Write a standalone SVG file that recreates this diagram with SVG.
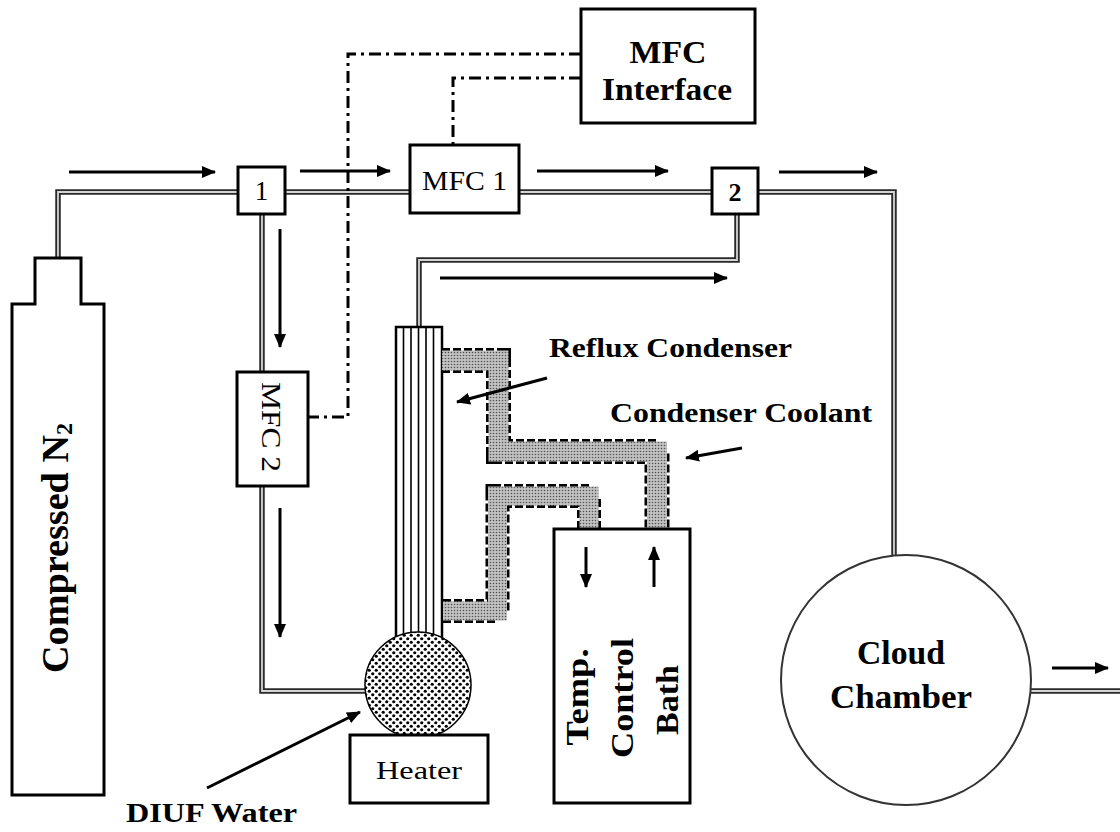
<svg xmlns="http://www.w3.org/2000/svg" width="1120" height="832" viewBox="0 0 1120 832">
<defs>
<style>
.pipe-o{fill:none;stroke:#2a2a2a;stroke-width:5.5;stroke-linejoin:miter}
.pipe-i{fill:none;stroke:#d4d4d4;stroke-width:1.8;stroke-linejoin:miter}
.box{fill:#fff;stroke:#000;stroke-width:3}
.flow{fill:none;stroke:#000;stroke-width:3;marker-end:url(#ah)}
.sig{fill:none;stroke:#000;stroke-width:3;stroke-dasharray:12 5 3 5}
.cool-b{fill:none;stroke:#000;stroke-dasharray:8 3;stroke-linejoin:miter}
.cool-f{fill:none;stroke:url(#stip);stroke-linejoin:miter}
.t{font-family:"Liberation Serif","Times New Roman",serif;fill:#000}
.b{font-weight:bold}
.m{text-anchor:middle}
</style>
<marker id="ah" markerUnits="userSpaceOnUse" markerWidth="14" markerHeight="12" refX="13" refY="6" orient="auto">
<path d="M0,0 L14,6 L0,12 z" fill="#000"/>
</marker>
<pattern id="stip" patternUnits="userSpaceOnUse" width="3" height="3">
<rect width="3" height="3" fill="#c2c2c2"/>
<circle cx="1.5" cy="1.5" r="0.8" fill="#555"/>
</pattern>
<pattern id="dots" patternUnits="userSpaceOnUse" width="7" height="7">
<rect width="7" height="7" fill="#fff"/>
<circle cx="1.75" cy="1.75" r="1.6" fill="#000"/>
<circle cx="5.25" cy="5.25" r="1.6" fill="#000"/>
</pattern>
</defs>
<rect width="1120" height="832" fill="#fff"/>

<g id="pipes">
<path class="pipe-o" d="M58,258 V192 H238"/><path class="pipe-i" d="M58,258 V192 H238"/>
<path class="pipe-o" d="M285,192 H410"/><path class="pipe-i" d="M285,192 H410"/>
<path class="pipe-o" d="M519,192 H712"/><path class="pipe-i" d="M519,192 H712"/>
<path class="pipe-o" d="M758,192 H894 V556"/><path class="pipe-i" d="M758,192 H894 V556"/>
<path class="pipe-o" d="M262,214 V372"/><path class="pipe-i" d="M262,214 V372"/>
<path class="pipe-o" d="M262,486 V691 H366"/><path class="pipe-i" d="M262,486 V691 H366"/>
<path class="pipe-o" d="M419,327 V260 H737 V214"/><path class="pipe-i" d="M419,327 V260 H737 V214"/>
<path class="pipe-o" d="M1030,691 H1120"/><path class="pipe-i" d="M1030,691 H1120"/>
</g>

<g id="signals">
<path class="sig" d="M581,54 H348 V417 H308"/>
<path class="sig" d="M581,78 H453 V145"/>
</g>

<g id="cylinder">
<path d="M12,795 V304 H35 V258 H81 V304 H104 V795 Z" fill="#fff" stroke="#000" stroke-width="3"/>
<text class="t b m" font-size="38" textLength="250" lengthAdjust="spacingAndGlyphs" transform="translate(68,548) rotate(-90)">Compressed N<tspan font-size="24" dy="4">2</tspan></text>
</g>

<g id="junction1">
<rect class="box" x="238" y="167" width="47" height="47"/>
<text class="t m" x="261.5" y="200" font-size="27">1</text>
</g>

<g id="junction2">
<rect class="box" x="712" y="168" width="46" height="46"/>
<text class="t b m" x="735" y="201" font-size="26">2</text>
</g>

<g id="mfc1">
<rect class="box" x="410" y="145" width="109" height="68"/>
<text class="t m" x="464.5" y="190" font-size="27" textLength="85" lengthAdjust="spacingAndGlyphs">MFC 1</text>
</g>

<g id="mfc2">
<rect class="box" x="237" y="372" width="71" height="114"/>
<text class="t m" font-size="27" textLength="90" lengthAdjust="spacingAndGlyphs" transform="translate(262,427) rotate(90)">MFC 2</text>
</g>

<g id="mfc-interface">
<rect class="box" x="581" y="9" width="174" height="114"/>
<text class="t b m" x="668" y="63" font-size="32" textLength="77" lengthAdjust="spacingAndGlyphs">MFC</text>
<text class="t b m" x="667" y="100" font-size="32" textLength="130" lengthAdjust="spacingAndGlyphs">Interface</text>
</g>

<g id="condenser">
<rect x="396" y="327" width="46" height="312" fill="#fff" stroke="#000" stroke-width="2.5"/>
<path d="M403.5,327 V639 M411,327 V639 M418.5,327 V639 M426,327 V639 M433.5,327 V639" stroke="#000" stroke-width="1.6"/>
</g>

<g id="coolant">
<path class="cool-b" stroke-width="25" d="M442,360.5 H498.5 V451.5 H657 V529"/>
<path class="cool-f" stroke-width="20" d="M442,360.5 H498.5 V451.5 H657 V529"/>
<path class="cool-b" stroke-width="24" d="M443,611 H497.5 V496 H589 V529"/>
<path class="cool-f" stroke-width="19" d="M443,611 H497.5 V496 H589 V529"/>
</g>

<g id="flask">
<circle cx="418" cy="685" r="53" fill="url(#dots)" stroke="#000" stroke-width="1.5"/>
</g>

<g id="heater">
<rect class="box" x="350" y="735" width="138" height="68"/>
<text class="t m" x="419" y="779" font-size="25" textLength="86" lengthAdjust="spacingAndGlyphs">Heater</text>
</g>

<g id="bath">
<rect class="box" x="554" y="529" width="136" height="274"/>
<text class="t b m" font-size="32" textLength="97" lengthAdjust="spacingAndGlyphs" transform="translate(588,697) rotate(-90)">Temp.</text>
<text class="t b m" font-size="32" textLength="120" lengthAdjust="spacingAndGlyphs" transform="translate(633,698) rotate(-90)">Control</text>
<text class="t b m" font-size="32" textLength="70" lengthAdjust="spacingAndGlyphs" transform="translate(678,700) rotate(-90)">Bath</text>
</g>

<g id="cloud-chamber">
<circle cx="906" cy="680" r="125" fill="#fff" stroke="#333" stroke-width="2"/>
<text class="t b m" x="901" y="664" font-size="33" textLength="88" lengthAdjust="spacingAndGlyphs">Cloud</text>
<text class="t b m" x="901" y="708" font-size="33" textLength="142" lengthAdjust="spacingAndGlyphs">Chamber</text>
</g>

<g id="labels">
<text class="t b" x="549" y="357" font-size="28" textLength="243" lengthAdjust="spacingAndGlyphs">Reflux Condenser</text>
<text class="t b" x="610" y="422" font-size="28" textLength="262" lengthAdjust="spacingAndGlyphs">Condenser Coolant</text>
<text class="t b" x="126" y="822" font-size="28" textLength="171" lengthAdjust="spacingAndGlyphs">DIUF Water</text>
</g>

<g id="flow-arrows">
<path class="flow" d="M69,172 H215"/>
<path class="flow" d="M300,171 H390"/>
<path class="flow" d="M537,171 H668"/>
<path class="flow" d="M779,172 H877"/>
<path class="flow" d="M280,229 V347"/>
<path class="flow" d="M280,508 V637"/>
<path class="flow" d="M440,278 H727"/>
<path class="flow" d="M1052,668 H1108"/>
<path class="flow" d="M586,547 V587"/>
<path class="flow" d="M654,587 V547"/>
<path class="flow" d="M547,378 L457,402"/>
<path class="flow" d="M742,448 L686,458"/>
<path class="flow" d="M207,788 L360,712"/>
</g>
</svg>
